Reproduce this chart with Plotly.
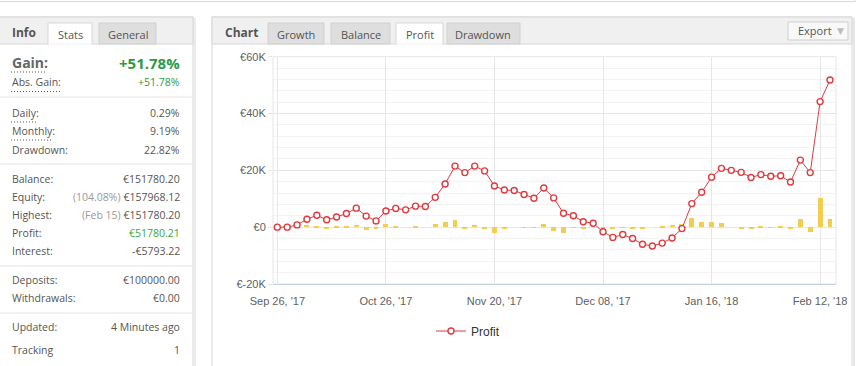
import plotly.graph_objects as go

W, H = 857, 366

# ---------------- chart data ----------------
profit = [0, 0, 800, 2800, 4200, 2600, 3600, 4800, 6700, 3900,
          2200, 5700, 6600, 6100, 7400, 7300, 10500, 15200, 21500, 19200,
          21500, 19800, 14500, 13100, 12900, 11500, 10200, 13800, 10300, 4900,
          4000, 1900, 1400, -1600, -3600, -2600, -4000, -6000, -6600, -5600,
          -3800, -500, 8300, 12300, 17600, 20700, 20000, 19300, 17500, 18500,
          17900, 18100, 15900, 23600, 19200, 44200, 51780]
daily = [0, 0, 0, 900, 600, -600, 200, 200, 900, -800,
         -500, 1400, 200, 0, 600, 0, 1300, 2000, 2500, -600,
         900, -500, -2000, -200, 0, -100, -100, 1200, -1300, -2000,
         -100, -500, 0, -500, -200, 100, -200, -300, 0, 300,
         900, 1300, 3500, 1900, 2100, 1500, 0, -200, -700, 200,
         100, 200, -500, 3000, -1600, 10300, 3000]
categories = list(range(len(profit)))
tick_positions = [0, 11, 22, 33, 44, 55]
tick_labels = ["Sep 26, '17", "Oct 26, '17", "Nov 20, '17",
               "Dec 08, '17", "Jan 16, '18", "Feb 12, '18"]
y_ticks = [-20000, 0, 20000, 40000, 60000]
y_tick_labels = ["€-20K", "€0", "€20K", "€40K", "€60K"]

# ---------------- info panel data ----------------
stat_labels = ["Daily:", "Monthly:", "Drawdown:", "Balance:", "Equity:", "Highest:",
               "Profit:", "Interest:", "Deposits:", "Withdrawals:", "Updated:", "Tracking"]
stat_values = ["0.29%", "9.19%", "22.82%", "€151780.20",
               "<span style='color:#999999'>(104.08%)</span> €157968.12",
               "<span style='color:#999999'>(Feb 15)</span> €151780.20",
               "€51780.21", "-€5793.22", "€100000.00", "€0.00", "4 Minutes ago", "1"]
stat_rows_y = [113, 131, 150, 179, 197, 215, 233, 251, 280, 298, 327, 350]

def X(px):
    return px / W

def Y(py):
    return 1 - py / H

shapes = []
annotations = []

def rect(x0, y0, x1, y1, fill=None, line=None, lw=1, layer="below"):
    shapes.append(dict(type="rect", xref="paper", yref="paper",
                       x0=X(x0), x1=X(x1), y0=Y(y1), y1=Y(y0),
                       fillcolor=fill if fill else "rgba(0,0,0,0)",
                       line=dict(color=line if line else "rgba(0,0,0,0)", width=lw if line else 0),
                       layer=layer))

def hline(x0, x1, y, color, lw=1, dash="solid", layer="below"):
    shapes.append(dict(type="line", xref="paper", yref="paper",
                       x0=X(x0), x1=X(x1), y0=Y(y), y1=Y(y),
                       line=dict(color=color, width=lw, dash=dash), layer=layer))

def vline(x, y0, y1, color, lw=1, layer="below"):
    shapes.append(dict(type="line", xref="paper", yref="paper",
                       x0=X(x), x1=X(x), y0=Y(y0), y1=Y(y1),
                       line=dict(color=color, width=lw), layer=layer))

def text(x, y, s, anchor="left", size=11, color="#555555", bold=False, family="Open Sans"):
    if bold:
        s = "<b>" + s + "</b>"
    annotations.append(dict(xref="paper", yref="paper", x=X(x), y=Y(y), text=s,
                            showarrow=False, xanchor=anchor, yanchor="middle",
                            font=dict(family=family, size=size, color=color)))

DOT = "1px,2px"

# top border of previous panel
hline(0, 855, 1.5, "#d9d9d9", 1)
vline(855, 0, 2, "#d9d9d9", 1)

# ---------------- left info panel ----------------
rect(-1, 17, 193, 372, fill="#ffffff", line="#d6d6d6")
vline(195, 18, 366, "#ececec", 2)
rect(-1, 17, 193, 44, fill="#f0f0f0", line="#d6d6d6")
rect(99, 23, 156, 44, fill="#dedede", line="#d0d0d0")
rect(48, 23, 92, 44, fill="#ffffff", line="#d6d6d6")
hline(48.5, 91.5, 44, "#ffffff", 1.5)
text(10, 33, "Info", bold=True, size=12)
text(70, 34, "Stats", anchor="center", size=11)
text(127.5, 34, "General", anchor="center", size=11)

text(10, 63, "Gain:", bold=True, size=14, color="#666666")
text(182, 63, "+51.78%", anchor="right", bold=True, size=15, color="#2a9a48")
hline(11, 45, 72, "#555555", 1, dash=DOT)
text(10, 82.5, "Abs. Gain:", size=10.5)
text(182, 82.5, "+51.78%", anchor="right", size=10.5, color="#2a9a48")
hline(11, 61, 91.5, "#555555", 1, dash=DOT)
for sy in [97, 164, 266, 313]:
    hline(0, 193, sy, "#e3e3e3", 1)
hline(11, 38, 122, "#555555", 1, dash=DOT)
hline(11, 52, 140, "#555555", 1, dash=DOT)

for lab, val, yy in zip(stat_labels, stat_values, stat_rows_y):
    text(10, yy, lab, size=10.5)
    col = "#3aa83a" if lab == "Profit:" else "#555555"
    text(182, yy, val, anchor="right", size=10.5, color=col)

# ---------------- right chart panel ----------------
rect(212, 17, 852, 372, fill="#ffffff", line="#d6d6d6")
vline(854, 18, 366, "#e6e6e6", 2)
rect(212, 17, 852, 44, fill="#f0f0f0", line="#d6d6d6")
text(223, 33, "Chart", bold=True, size=12)
tabs = [("Growth", 268, 324), ("Balance", 331, 390), ("Profit", 396, 443), ("Drawdown", 447, 520)]
for name, a, b in tabs:
    if name == "Profit":
        rect(a, 23, b, 44, fill="#ffffff", line="#d6d6d6")
        hline(a + 0.5, b - 0.5, 44, "#ffffff", 1.5)
    else:
        rect(a, 23, b, 44, fill="#dedede", line="#d0d0d0")
    text((a + b) / 2, 34, name, anchor="center", size=11)
rect(788, 22, 848, 40, fill="#f8f8f8", line="#cfcfcf")
text(796, 31, "Export", size=11, color="#555555")
text(840, 31, "▼", anchor="center", size=9, color="#bbbbbb", family="DejaVu Sans")

# plot border
rect(273, 56.7, 836, 284, fill=None, line="#e6e6e6")

fig = go.Figure()
fig.add_trace(go.Bar(x=categories, y=daily, width=0.5, marker=dict(color="#f3cd50", line=dict(width=0)),
                     showlegend=False, hoverinfo="skip"))
fig.add_trace(go.Scatter(x=categories, y=profit, mode="lines+markers", name="Profit",
                         line=dict(color="#e03a3e", width=1),
                         marker=dict(symbol="circle", size=6, color="#ffffff",
                                     line=dict(color="#e03a3e", width=1.4))))

fig.update_layout(
    width=W, height=H, autosize=False,
    margin=dict(l=0, r=0, t=0, b=0, autoexpand=False),
    paper_bgcolor="#ffffff", plot_bgcolor="rgba(0,0,0,0)",
    shapes=shapes, annotations=annotations,
    bargap=0,
    xaxis=dict(domain=[X(273), X(836)], range=[-0.44, 56.61], automargin=False,
               tickmode="array", tickvals=tick_positions, ticktext=tick_labels,
               showgrid=True, gridcolor="#e6e6e6", gridwidth=1,
               showline=True, linecolor="#c0d0e0", linewidth=1,
               zeroline=False, ticks="", ticklabelstandoff=7,
               tickfont=dict(family="Liberation Sans", size=11, color="#606060"),
               fixedrange=True),
    yaxis=dict(domain=[Y(284), Y(56.7)], range=[-20000, 60000], automargin=False,
               tickmode="array", tickvals=y_ticks, ticktext=y_tick_labels,
               showgrid=True, gridcolor="#e6e6e6", gridwidth=1,
               minor=dict(tickmode="linear", tick0=0, dtick=4000, showgrid=True,
                          gridcolor="#f3f3f3", gridwidth=1),
               zeroline=False, showline=False,
               ticks="outside", ticklen=4, tickcolor="#e6e6e6",
               tickfont=dict(family="Liberation Sans", size=11, color="#606060"),
               fixedrange=True),
    legend=dict(orientation="h", x=X(431), xanchor="left", y=Y(331), yanchor="middle",
                font=dict(family="Liberation Sans", size=12, color="#333333"),
                bgcolor="rgba(0,0,0,0)", itemwidth=30),
    showlegend=True,
)

fig.write_html("out.html", config={"displayModeBar": False},
               post_script="document.body.style.margin='0';document.body.style.overflow='hidden';")
